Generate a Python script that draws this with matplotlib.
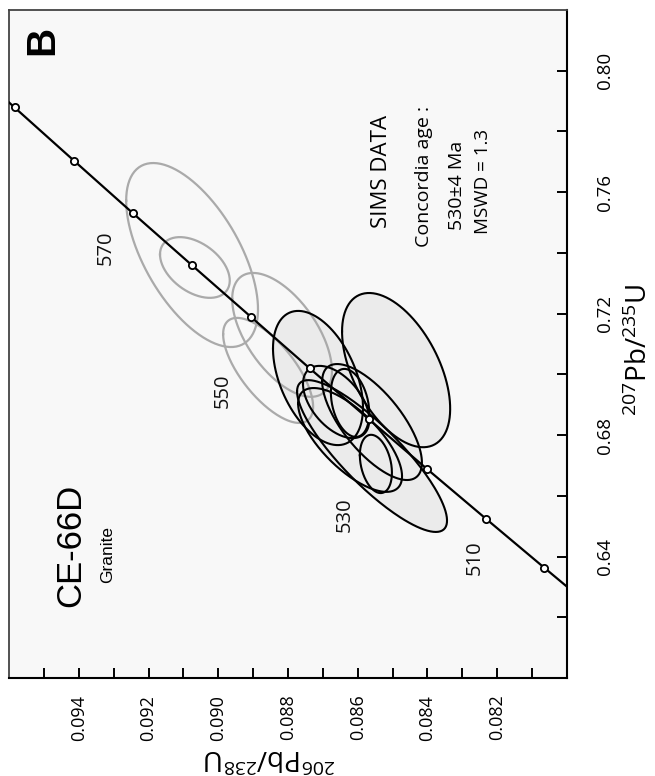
import numpy as np
import matplotlib
matplotlib.use("Agg")
import matplotlib.pyplot as plt
from matplotlib.ticker import FixedLocator, FormatStrFormatter

plt.rcParams['font.family'] = ['Open Sans', 'DejaVu Sans']
plt.rcParams['mathtext.default'] = 'regular'

# Concordia curve (age in Ma, 206Pb/238U, 207Pb/235U)
conc_age = [480, 490, 500, 510, 520, 530, 540, 550, 560, 570, 580, 590, 600]
conc_206 = [0.07730, 0.07897, 0.08065, 0.08233, 0.08401, 0.08569, 0.08738,
            0.08906, 0.09075, 0.09245, 0.09414, 0.09584, 0.09754]
conc_207 = [0.6044, 0.6202, 0.6363, 0.6525, 0.6688, 0.6853, 0.7020,
            0.7189, 0.7359, 0.7531, 0.7704, 0.7879, 0.8056]
marker_ages = [500, 510, 520, 530, 540, 550, 560, 570, 580, 590]
label_ages = ['510', '530', '550', '570']
label_206 = [0.08264, 0.08637, 0.08986, 0.09322]
label_207 = [0.6395, 0.6537, 0.6945, 0.7416]

# Grey (excluded) analyses: centre 206/238, centre 207/235, half-extent 206, half-extent 207, rho
grey_c206 = [0.09075, 0.09067, 0.08817, 0.08857]
grey_c207 = [0.7393, 0.7352, 0.7130, 0.7013]
grey_e206 = [0.00189, 0.00100, 0.00143, 0.00129]
grey_e207 = [0.0303, 0.0100, 0.0204, 0.0173]
grey_rho = [0.59, 0.43, 0.58, 0.69]

# Black (concordant) analyses
blk_c206 = [0.08490, 0.08714, 0.08559, 0.08662, 0.08548, 0.08622, 0.08559, 0.08622]
blk_c207 = [0.7014, 0.6988, 0.6731, 0.6909, 0.6705, 0.6906, 0.6843, 0.6784]
blk_e206 = [0.00155, 0.00129, 0.00215, 0.00095, 0.00046, 0.00055, 0.00143, 0.00149]
blk_e207 = [0.0254, 0.0221, 0.0250, 0.0119, 0.0096, 0.0112, 0.0191, 0.0171]
blk_rho = [0.50, 0.44, 0.85, 0.50, 0.30, 0.30, 0.70, 0.70]

x_major = [0.082, 0.084, 0.086, 0.088, 0.090, 0.092, 0.094]
x_minor = [0.081, 0.083, 0.085, 0.087, 0.089, 0.091, 0.093, 0.095]
y_major = [0.64, 0.68, 0.72, 0.76, 0.80]
y_minor = [0.62, 0.66, 0.70, 0.74, 0.78]


def ellipse_xy(cx, cy, ex, ey, rho, n=200):
    t = np.linspace(0, 2 * np.pi, n)
    x = cx + ex * np.cos(t)
    y = cy + ey * (rho * np.cos(t) + np.sqrt(1 - rho ** 2) * np.sin(t))
    return x, y


W, H = 655, 776
fig = plt.figure(figsize=(W / 100, H / 100), dpi=100)
ax = fig.add_axes([9 / W, 1 - 678 / H, 558 / W, 668 / H])
ax.set_facecolor('#f8f8f8')
ax.set_xlim(0.096, 0.080)
ax.set_ylim(0.60, 0.82)

# fills of black ellipses
for cx, cy, ex, ey, r in zip(blk_c206, blk_c207, blk_e206, blk_e207, blk_rho):
    x, y = ellipse_xy(cx, cy, ex, ey, r)
    ax.fill(x, y, color='#ebebeb', lw=0, zorder=1)
# grey outlines
for cx, cy, ex, ey, r in zip(grey_c206, grey_c207, grey_e206, grey_e207, grey_rho):
    x, y = ellipse_xy(cx, cy, ex, ey, r)
    ax.plot(x, y, color='#aaaaaa', lw=1.6, zorder=2)
# black outlines
for cx, cy, ex, ey, r in zip(blk_c206, blk_c207, blk_e206, blk_e207, blk_rho):
    x, y = ellipse_xy(cx, cy, ex, ey, r)
    ax.plot(x, y, color='black', lw=1.5, zorder=3)

# concordia
ax.plot(conc_206, conc_207, color='black', lw=1.6, zorder=4)
mx = [conc_206[conc_age.index(a)] for a in marker_ages]
my = [conc_207[conc_age.index(a)] for a in marker_ages]
ax.plot(mx, my, 'o', ms=5.2, mfc='white', mec='black', mew=1.3, zorder=5)
for lab, lx, ly in zip(label_ages, label_206, label_207):
    ax.text(lx, ly, lab, rotation=90, ha='center', va='center', fontsize=14.5, color='#111111')

# axes styling
ax.xaxis.set_major_locator(FixedLocator(x_major))
ax.xaxis.set_minor_locator(FixedLocator(x_minor))
ax.yaxis.set_major_locator(FixedLocator(y_major))
ax.yaxis.set_minor_locator(FixedLocator(y_minor))
ax.xaxis.set_major_formatter(FormatStrFormatter('%.3f'))
ax.yaxis.set_major_formatter(FormatStrFormatter('%.2f'))
ax.yaxis.tick_right()
ax.tick_params(which='both', direction='in', length=7, width=1.4, color='black')
ax.tick_params(axis='x', which='major', labelsize=13, labelrotation=90, pad=12)
ax.tick_params(axis='y', which='major', labelsize=13.5, labelrotation=90, pad=21)
for lbl in ax.get_yticklabels():
    lbl.set_va('center')
for side in ['right', 'bottom']:
    ax.spines[side].set_linewidth(1.5)
    ax.spines[side].set_color('black')
for side in ['left', 'top']:
    ax.spines[side].set_linewidth(1.3)
    ax.spines[side].set_color('#444444')

# axis titles
fig.text(270 / W, 1 - 756 / H, r'$^{206}$Pb/$^{238}$U', rotation=180,
         ha='center', va='center', fontsize=20)
fig.text(640 / W, 1 - 350 / H, r'$^{207}$Pb/$^{235}$U', rotation=90,
         ha='center', va='center', fontsize=20)

# annotations
ax.text(0.059, 0.955, 'B', transform=ax.transAxes, rotation=90, ha='center', va='center',
        fontsize=29, fontweight='bold', family=['Liberation Sans', 'DejaVu Sans'])
ax.text(0.111, 0.106, 'CE-66D', transform=ax.transAxes, rotation=90, ha='center', va='bottom',
        fontsize=25, family=['Liberation Sans', 'DejaVu Sans'])
ax.text(0.176, 0.142, 'Granite', transform=ax.transAxes, rotation=90, ha='center', va='bottom',
        fontsize=12.5, family=['Liberation Sans', 'DejaVu Sans'])
ax.text(0.668, 0.759, 'SIMS DATA', transform=ax.transAxes, rotation=90, ha='center', va='center',
        fontsize=16)
ax.text(0.744, 0.751, 'Concordia age :', transform=ax.transAxes, rotation=90, ha='center',
        va='center', fontsize=14)
ax.text(0.803, 0.738, '530±4 Ma', transform=ax.transAxes, rotation=90, ha='center',
        va='center', fontsize=14)
ax.text(0.850, 0.743, 'MSWD = 1.3', transform=ax.transAxes, rotation=90, ha='center',
        va='center', fontsize=13.5)

fig.savefig('out.png', dpi=100, facecolor='white')
